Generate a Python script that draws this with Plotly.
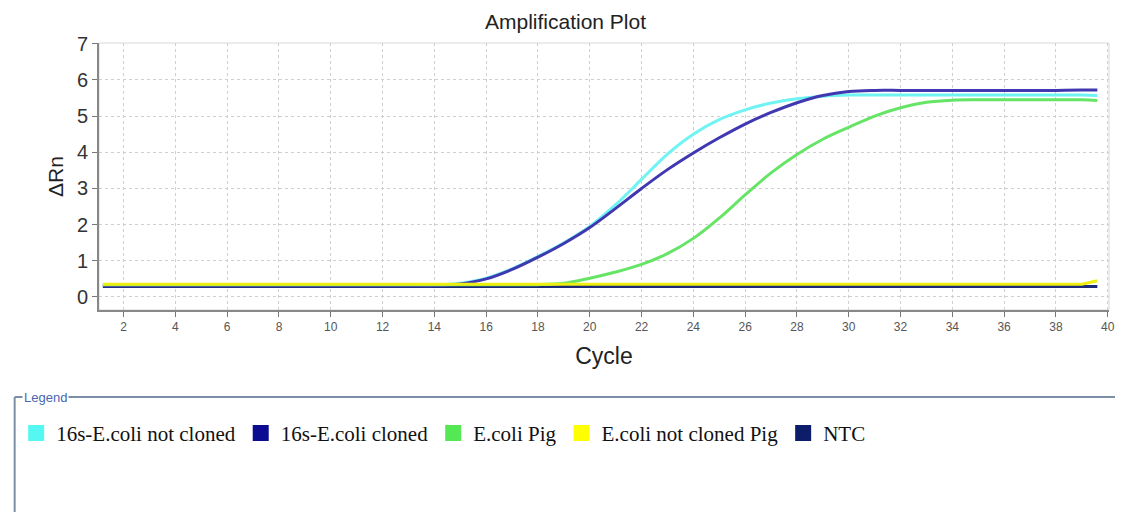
import plotly.graph_objects as go

# ---- data ----
cycles = [1.2] + list(range(2, 40)) + [39.6]

ecoli_not_cloned_16s = [0.33] * 14 + [
    0.38, 0.52, 0.78, 1.12, 1.50, 1.95, 2.55, 3.25, 3.95, 4.50,
    4.90, 5.17, 5.36, 5.48, 5.55, 5.58, 5.58, 5.58, 5.58, 5.58,
    5.58, 5.58, 5.58, 5.58, 5.58, 5.57]

ecoli_cloned_16s = [0.31] * 14 + [
    0.36, 0.50, 0.76, 1.10, 1.48, 1.92, 2.45, 3.00, 3.52, 3.98,
    4.40, 4.78, 5.10, 5.37, 5.57, 5.68, 5.71, 5.71, 5.71, 5.71,
    5.71, 5.71, 5.71, 5.71, 5.72, 5.72]

ecoli_pig = [0.34] * 18 + [
    0.38, 0.52, 0.69, 0.90, 1.20, 1.62, 2.18, 2.82, 3.43, 3.94,
    4.36, 4.69, 5.00, 5.23, 5.38, 5.44, 5.45, 5.45, 5.45, 5.45,
    5.45, 5.43]

ecoli_not_cloned_pig = [0.35] * 39 + [0.45]
ntc = [0.29] * 40

series_names = ["16s-E.coli not cloned", "16s-E.coli cloned", "E.coli Pig",
                "E.coli not cloned Pig", "NTC"]
series_values = [ecoli_not_cloned_16s, ecoli_cloned_16s, ecoli_pig,
                 ecoli_not_cloned_pig, ntc]
line_colors = ["#6ff3f3", "#4038b0", "#66e466", "#eeee10", "#1c2a78"]
legend_colors = ["#55f7f2", "#0c0c92", "#55e855", "#ffff00", "#0e1d6a"]
line_shapes = ["spline", "spline", "spline", "linear", "linear"]

x_ticks = list(range(2, 41, 2))
y_ticks = list(range(0, 8))

fig = go.Figure()

draw_order = [4, 0, 1, 2, 3]
for i in draw_order:
    fig.add_trace(go.Scatter(
        x=cycles, y=series_values[i], mode="lines",
        line=dict(color=line_colors[i], width=3, shape=line_shapes[i]),
        showlegend=False, hoverinfo="skip"))

for name, col in zip(series_names, legend_colors):
    fig.add_trace(go.Scatter(
        x=[None], y=[None], mode="markers", name=name,
        marker=dict(symbol="square", size=22, color=col)))

grid = dict(showgrid=True, gridcolor="#cfcfcf", griddash="3px,3px", gridwidth=1)

# The page has an 8px body margin, so the figure is sized 8px smaller.
fig.update_layout(
    width=1115, height=504,
    margin=dict(l=89, r=8, t=35, b=202),
    paper_bgcolor="white", plot_bgcolor="white",
    title=dict(text="Amplification Plot", x=0.5, xanchor="center",
               y=0.972, yanchor="middle",
               font=dict(family="Liberation Sans, Arial", size=21, color="#222")),
    xaxis=dict(range=[1.05, 40.05], tickvals=x_ticks, ticktext=[str(v) for v in x_ticks],
               ticks="outside", ticklen=5, tickcolor="#777",
               showline=True, linecolor="#888", linewidth=2, zeroline=False,
               tickfont=dict(family="Liberation Sans, Arial", size=12, color="#555"),
               title=dict(text="Cycle", standoff=14,
                          font=dict(family="Liberation Sans, Arial", size=23, color="#222")),
               **grid),
    yaxis=dict(range=[-0.36, 7.02], tickvals=y_ticks,
               ticks="outside", ticklen=5, tickcolor="#777",
               showline=True, linecolor="#888", linewidth=2, zeroline=False,
               tickfont=dict(family="Liberation Sans, Arial", size=20, color="#333"),
               title=dict(text="ΔRn", standoff=8,
                          font=dict(family="Liberation Sans, Arial", size=21, color="#222")),
               **grid),
    legend=dict(orientation="h", x=-0.082, xanchor="left", y=-0.385, yanchor="top",
                bgcolor="rgba(0,0,0,0)", itemsizing="trace",
                font=dict(family="Liberation Serif, Times New Roman", size=21, color="#111"),
                itemclick=False, itemdoubleclick=False),
    shapes=[
        dict(type="rect", xref="paper", yref="paper", x0=0, x1=1, y0=0, y1=1,
             line=dict(color="#d8d8d8", width=1), layer="below"),
        dict(type="line", xref="paper", yref="paper", x0=-0.0835, x1=1.02,
             y0=-0.326, y1=-0.326, line=dict(color="#7d8ea8", width=2)),
        dict(type="line", xref="paper", yref="paper", x0=-0.0835, x1=-0.0835,
             y0=-0.326, y1=-0.80, line=dict(color="#7d8ea8", width=2)),
    ],
    annotations=[
        dict(text="Legend", xref="paper", yref="paper", x=-0.076, y=-0.326,
             xanchor="left", yanchor="middle", showarrow=False, bgcolor="white",
             font=dict(family="Liberation Sans, Arial", size=13, color="#4a66b0")),
    ],
)

fig.write_html("out.html")
